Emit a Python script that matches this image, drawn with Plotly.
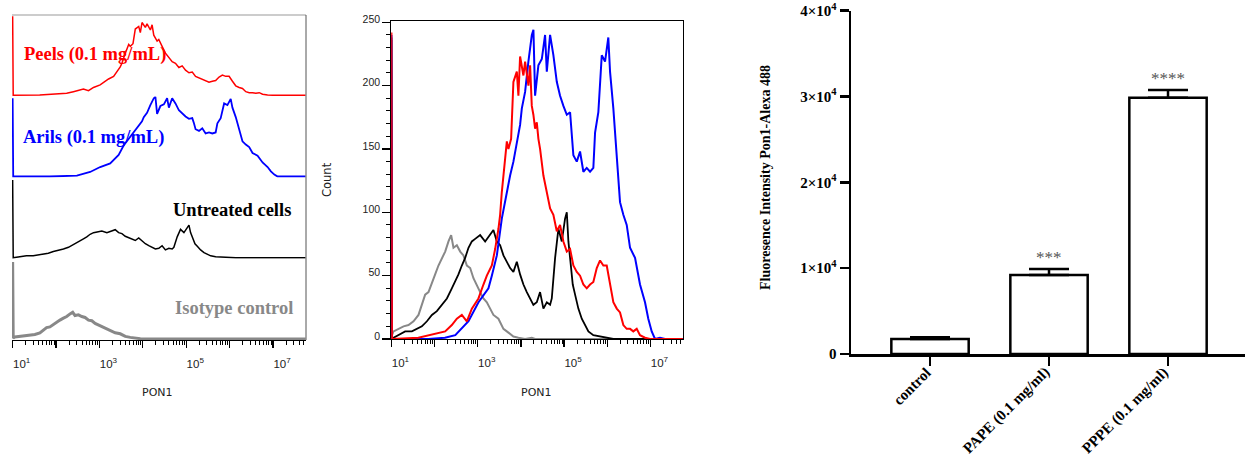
import plotly.graph_objects as go

W, H = 1245, 456

# ---------------- histogram data (PON1 intensity vs event count) ----------------
peels_pon1 = [10, 10.3, 42, 72, 176, 251, 328, 428, 559, 730, 1038, 1355, 1624, 2120, 2530, 3015,
              3300, 3610, 3935, 4305, 4720, 5140, 5930, 6700, 8040, 8750, 9570, 11430, 12500, 14930,
              16330, 17860, 19450, 21330, 23330, 25410, 27800, 33190, 39810, 47430, 56490, 67760,
              80720, 96360, 115600, 137700, 164100, 196800, 234400, 279900, 335000, 399900, 476400,
              571500, 680800, 812800, 972800, 1161000, 1384000, 1660000, 1977000, 2360000, 2825000,
              3373000, 4018000, 4819000, 5741000, 7499000, 9795000, 56000000]
peels_count = [242, 0, 1, 3, 6, 11, 16, 19, 14, 24, 32, 43, 50, 58, 71, 87,
               98, 116, 129, 142, 156, 150, 158, 203, 211, 192, 223, 208, 219, 200,
               216, 184, 177, 166, 171, 158, 150, 129, 116, 103, 98, 85,
               90, 77, 69, 71, 58, 53, 50, 43, 40, 43, 45,
               56, 62, 58, 58, 43, 29, 24, 21, 11, 8,
               8, 6, 8, 3, 1, 0, 0]

arils_pon1 = [10, 10.3, 71, 174, 302, 610, 1040, 1770, 2120, 2770, 3610, 4720, 5620, 6700, 8040,
              9570, 10500, 12500, 14900, 17900, 19500, 21300, 25400, 30500, 36300, 39800, 47400,
              56500, 67800, 80700, 96400, 115600, 137700, 150700, 164100, 196800, 234400, 279900,
              335000, 399900, 476400, 522400, 622300, 746500, 889200, 1059000, 1161000, 1384000,
              1600000, 1807000, 1977000, 2360000, 2825000, 3373000, 4406000, 5741000, 7499000,
              8933000, 10720000, 12790000, 16670000, 21780000, 56000000]
arils_count = [240, 0, 0, 1, 3, 14, 29, 40, 50, 66, 95, 116, 129, 140, 156,
               169, 182, 195, 219, 240, 244, 192, 216, 221, 240, 211, 240,
               224, 203, 192, 184, 177, 179, 163, 145, 140, 148, 132,
               135, 132, 135, 163, 179, 224, 219, 238, 211, 182,
               150, 129, 108, 98, 90, 72, 64, 43, 29,
               16, 6, 0, 1, 0, 0]

untreated_pon1 = [10, 10.3, 11.2, 14.6, 20.8, 29.8, 38.9, 50.8, 66.4, 86.7, 113, 148, 193, 251, 300,
                  357, 428, 511, 610, 730, 871, 1137, 1484, 1937, 2308, 2767, 3300, 3936, 4720,
                  5623, 6700, 8035, 9571, 11430, 13700, 16330, 19450, 23330, 27800, 33190, 39810,
                  47430, 51880, 61940, 73810, 88510, 105400, 115600, 125900, 137700, 158900,
                  179900, 214300, 257000, 306200, 365600, 476400, 680800, 972800, 1384000, 56000000]
untreated_count = [238, 0, 1, 3, 6, 6, 8, 10, 14, 19, 22, 27, 32, 40, 45,
                   51, 58, 64, 72, 77, 79, 82, 77, 83, 86, 77, 74, 66, 61,
                   56, 53, 61, 51, 43, 37, 32, 27, 29, 37, 24, 29,
                   27, 32, 64, 87, 77, 95, 100, 77, 64, 43,
                   35, 24, 16, 11, 6, 3, 2, 1, 0, 0]

isotype_pon1 = [10, 10.3, 11.2, 14.6, 19.1, 24.9, 32.5, 42.4, 50.8, 60.5, 72.3, 86.7, 103, 123, 148,
                176, 210, 242, 274, 328, 392, 467, 560, 667, 795, 953, 1137, 1355, 1624, 1937,
                2308, 3013, 3936, 5140, 6700, 8750, 12500, 17860, 21330, 56000000]
isotype_count = [236, 3, 6, 8, 10, 11, 14, 19, 27, 35, 37, 45, 51, 58, 64,
                 69, 77, 82, 72, 74, 69, 66, 58, 56, 48, 43, 37, 32, 29, 24,
                 19, 16, 8, 5, 2, 1, 0, 1, 0, 0]

# ---------------- bar chart data ----------------
groups = ["control", "PAPE (0.1 mg/ml)", "PPPE (0.1 mg/ml)"]
means = [1750, 9200, 29850]
sems = [200, 700, 900]
stars = ["", "***", "****"]

histos = [
    ("Peels (0.1 mg/mL)", peels_pon1, peels_count, "#ff0000", 1.5, 2.0),
    ("Arils (0.1 mg/mL)", arils_pon1, arils_count, "#0000ff", 1.8, 2.0),
    ("Untreated cells", untreated_pon1, untreated_count, "#000000", 1.5, 1.8),
    ("Isotype control", isotype_pon1, isotype_count, "#888888", 3.0, 2.0),
]

fig = go.Figure()

# left panel: stacked lanes
for i, (name, xs, ys, col, lw_left, lw_mid) in enumerate(histos):
    fig.add_trace(go.Scatter(x=xs, y=ys, mode="lines", line=dict(color=col, width=lw_left),
                             xaxis="x", yaxis="y" if i == 0 else f"y{i+1}", hoverinfo="skip"))

# middle panel: overlay (gray, black, blue, red)
for i in [3, 2, 1, 0]:
    name, xs, ys, col, lw_left, lw_mid = histos[i]
    fig.add_trace(go.Scatter(x=xs, y=ys, mode="lines", line=dict(color=col, width=lw_mid),
                             xaxis="x2", yaxis="y5", hoverinfo="skip"))

# right panel: bars
fig.add_trace(go.Bar(x=groups, y=means, width=0.65,
                     marker=dict(color="white", line=dict(color="black", width=2.5)),
                     error_y=dict(type="data", symmetric=False, array=sems, arrayminus=[0, 0, 0],
                                  color="black", thickness=2.5, width=20),
                     xaxis="x3", yaxis="y6", hoverinfo="skip"))

decades = [10, 100, 1e3, 1e4, 1e5, 1e6, 1e7]
dec_text = ["10<sup>1</sup>", "", "10<sup>3</sup>", "", "10<sup>5</sup>", "", "10<sup>7</sup>"]
minor_vals = [m * 10 ** k for k in range(1, 8) for m in range(2, 10)]
sans = "Liberation Sans"
serif = "Liberation Serif"

def log_xaxis(domain, anchor, rng, mirror=False):
    return dict(domain=domain, anchor=anchor, type="log", range=rng, showline=True,
                linecolor="black", linewidth=1, mirror=mirror, ticks="outside", tickmode="array",
                tickvals=decades, ticktext=dec_text, ticklen=7, tickwidth=1.2, tickcolor="black",
                ticklabelstandoff=6, ticklabelshift=9,
                minor=dict(tickvals=minor_vals, ticks="outside", ticklen=4, tickwidth=1, tickcolor="black"),
                tickfont=dict(family=sans, size=11.5, color="#222"), showgrid=False, zeroline=False,
                layer="below traces", fixedrange=True)

lane_edges = [15, 96.25, 177.5, 258.75, 340]
layout = dict(
    width=W, height=H, autosize=False, margin=dict(l=0, r=0, t=0, b=0),
    paper_bgcolor="white", plot_bgcolor="white", showlegend=False, template="none",
    xaxis=log_xaxis([12 / W, 306 / W], "y4", [0.985, 7.76]),
    xaxis2=log_xaxis([391.2 / W, 683 / W], "y5", [0.995, 7.755], mirror=True),
    yaxis5=dict(domain=[1 - 339 / H, 1 - 21 / H], anchor="x2", range=[0, 251], showline=True,
                linecolor="black", linewidth=1, mirror=True, ticks="outside", tickmode="array",
                tickvals=[0, 50, 100, 150, 200, 250], ticklen=8, tickwidth=1.5, tickcolor="black",
                ticklabelshift=-3,
                minor=dict(tickvals=list(range(0, 251, 10)), ticks="outside", ticklen=4,
                           tickwidth=1, tickcolor="black"),
                tickfont=dict(family=sans, size=10.5, color="#222"), showgrid=False, zeroline=False,
                layer="below traces", fixedrange=True),
    xaxis3=dict(domain=[851 / W, 1.0], anchor="y6", type="category", range=[-0.664, 2.647],
                showline=True, linecolor="black", linewidth=2.5, ticks="outside", ticklen=9,
                tickwidth=2.5, tickcolor="black", showticklabels=False,
                showgrid=False, zeroline=False, fixedrange=True),
    yaxis6=dict(domain=[1 - 354 / H, 1 - 10.7 / H], anchor="x3", range=[0, 40000], showline=True,
                linecolor="black", linewidth=2.5, ticks="outside", ticklen=9, tickwidth=2.5,
                tickcolor="black", tickmode="array", tickvals=[0, 10000, 20000, 30000, 40000],
                ticktext=["0", "1×10<sup>4</sup>", "2×10<sup>4</sup>", "3×10<sup>4</sup>", "4×10<sup>4</sup>"],
                tickfont=dict(family=serif, size=15, color="black", weight="bold"),
                showgrid=False, zeroline=False, fixedrange=True),
)
for i in range(4):
    key = "yaxis" if i == 0 else f"yaxis{i+1}"
    layout[key] = dict(domain=[1 - lane_edges[i + 1] / H, 1 - lane_edges[i] / H], anchor="x",
                       range=[-3, 246], visible=False, fixedrange=True)
fig.update_layout(**layout)

# left-panel frame (top and right edges)
fig.add_shape(type="line", xref="paper", yref="paper", x0=12 / W, x1=306 / W, y0=1 - 15 / H, y1=1 - 15 / H,
              line=dict(color="#999999", width=1))
fig.add_shape(type="line", xref="paper", yref="paper", x0=306 / W, x1=306 / W, y0=1 - 15 / H, y1=1 - 340 / H,
              line=dict(color="#555555", width=1))

ann = []
# lane labels
lab_pos = [(21.7, 55, "left"), (21, 138, "left"), (293, 210, "right"), (295, 308, "right")]
for (name, xs, ys, col, a, b), (lx, ly, anc) in zip(histos, lab_pos):
    ann.append(dict(text=name, x=lx / W, y=1 - ly / H, xref="paper", yref="paper", xanchor=anc,
                    yanchor="middle", showarrow=False,
                    font=dict(family=serif, size=18.5, color=col, weight="bold")))
ann.append(dict(text="PON1", x=157 / W, y=1 - 392 / H, xref="paper", yref="paper", showarrow=False,
                xanchor="center", yanchor="middle", font=dict(family="DejaVu Sans", size=11, color="#222")))
ann.append(dict(text="PON1", x=536.7 / W, y=1 - 392 / H, xref="paper", yref="paper", showarrow=False,
                xanchor="center", yanchor="middle", font=dict(family="DejaVu Sans", size=11, color="#222")))
ann.append(dict(text="Count", x=327 / W, y=1 - 180 / H, xref="paper", yref="paper", showarrow=False,
                textangle=-90, xanchor="center", yanchor="middle",
                font=dict(family="DejaVu Sans", size=11.5, color="#222")))
ann.append(dict(text="Fluoresence Intensity Pon1-Alexa 488", x=765 / W, y=1 - 178 / H, xref="paper",
                yref="paper", showarrow=False, textangle=-90, xanchor="center", yanchor="middle",
                font=dict(family=serif, size=14, color="black", weight="bold")))
for g, m, s, st in zip(groups, means, sems, stars):
    if st:
        ann.append(dict(text=st, x=g, y=m + s, xref="x3", yref="y6", showarrow=False,
                        xanchor="center", yanchor="bottom", yshift=0,
                        font=dict(family=serif, size=17, color="#555555")))
    # rotated category labels
    ann.append(dict(text=g, x=g, xref="x3", y=1 - 361 / H, yref="paper", showarrow=False,
                    textangle=-45, xanchor="right", yanchor="top", xshift=7,
                    font=dict(family=serif, size=15, color="black", weight="bold")))
fig.update_layout(annotations=ann)

fig.write_html("out.html", config={"displayModeBar": False, "staticPlot": True},
               post_script="document.body.style.margin='0';document.body.style.padding='0';")
